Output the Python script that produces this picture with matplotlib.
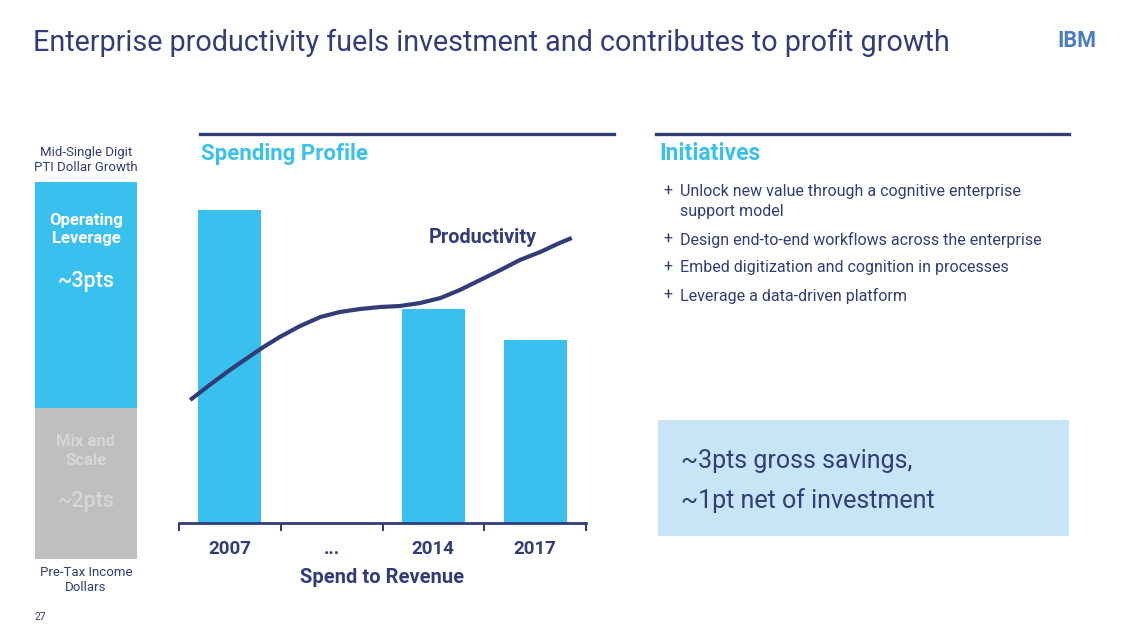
import matplotlib
matplotlib.use("Agg")
import matplotlib.pyplot as plt
from matplotlib.lines import Line2D
from matplotlib.patches import Rectangle

plt.rcParams['font.family'] = ['Roboto', 'DejaVu Sans']

# colours
NAVY = '#323d78'
BLUE = '#3ac0ee'
GREY = '#bfbfbf'
BOXBLUE = '#c7e5f7'

# data
years = ['2007', '...', '2014', '2017']
spend = [31.3, 0, 21.4, 18.3]          # spend to revenue (relative bar height)
prod_x = [-0.39, -0.20, 0.00, 0.20, 0.33, 0.49, 0.69, 0.89, 1.08, 1.28, 1.48,
          1.67, 1.87, 2.07, 2.26, 2.46, 2.66, 2.85, 3.05, 3.24, 3.36]
prod_y = [12.3, 13.8, 15.3, 16.7, 17.6, 18.6, 19.7, 20.6, 21.1, 21.4, 21.6,
          21.7, 22.0, 22.5, 23.3, 24.3, 25.3, 26.3, 27.1, 28.0, 28.5]
pti_parts = ['Mix and\nScale', 'Operating\nLeverage']
pti_pts = [2, 3]
pti_lbl = ['~2pts', '~3pts']
initiatives = ['Unlock new value through a cognitive enterprise\nsupport model',
               'Design end-to-end workflows across the enterprise',
               'Embed digitization and cognition in processes',
               'Leverage a data-driven platform']

W, H = 1129, 635
fig = plt.figure(figsize=(W / 100, H / 100), dpi=100)

def X(px):
    return px / W

def Y(py):
    return 1 - py / H

# title + logo
fig.text(X(33), Y(43), 'Enterprise productivity fuels investment and contributes to profit growth',
         fontsize=20.7, color=NAVY, va='center', ha='left')
fig.text(X(1077), Y(41), 'IBM', fontsize=15.5, fontweight='bold', color='#4a7bc4',
         va='center', ha='center')
for yy in range(33, 51, 2):
    fig.add_artist(Line2D([X(1052), X(1102)], [Y(yy + 0.5), Y(yy + 0.5)], color='white', lw=0.8))

# section rules
fig.add_artist(Line2D([X(200), X(614)], [Y(134), Y(134)], color=NAVY, lw=2.4))
fig.add_artist(Line2D([X(656), X(1069)], [Y(134), Y(134)], color=NAVY, lw=2.4))
fig.text(X(201), Y(154), 'Spending Profile', fontsize=16, fontweight='bold', color=BLUE, va='center')
fig.text(X(659), Y(154), 'Initiatives', fontsize=16.5, fontweight='bold', color=BLUE, va='center')

# left stacked bar (PTI dollars)
ax2 = fig.add_axes([X(35), Y(559), X(137) - X(35), (559 - 182) / H])
ax2.bar([0], [pti_pts[0]], width=1, color=GREY)
ax2.bar([0], [pti_pts[1]], width=1, bottom=[pti_pts[0]], color=BLUE)
ax2.set_xlim(-0.5, 0.5)
ax2.set_ylim(0, sum(pti_pts))
ax2.axis('off')
ax2.text(0, pti_pts[0] + pti_pts[1] * 0.79, pti_parts[1], ha='center', va='center',
         fontsize=12, fontweight='bold', color='white', linespacing=1.3)
ax2.text(0, pti_pts[0] + pti_pts[1] * 0.562, pti_lbl[1], ha='center', va='center',
         fontsize=15.5, color='white', fontweight='medium')
ax2.text(0, pti_pts[0] * 0.716, pti_parts[0], ha='center', va='center',
         fontsize=12, fontweight='bold', color='#d6d6d6', linespacing=1.3)
ax2.text(0, pti_pts[0] * 0.378, pti_lbl[0], ha='center', va='center',
         fontsize=15.5, color='#d6d6d6', fontweight='medium')
fig.text(X(86), Y(160), 'Mid-Single Digit\nPTI Dollar Growth', ha='center', va='center',
         fontsize=9.5, color=NAVY, linespacing=1.25)
fig.text(X(86), Y(580), 'Pre-Tax Income\nDollars', ha='center', va='center',
         fontsize=9.5, color=NAVY, linespacing=1.25)

# spending profile chart
ax = fig.add_axes([X(179), Y(523), X(586) - X(179), (523 - 180) / H])
ax.bar(range(len(years)), spend, width=0.62, color=BLUE)
ax.plot(prod_x, prod_y, color=NAVY, lw=3, solid_capstyle='butt', solid_joinstyle='round')
ax.text(2.49, 28.6, 'Productivity', fontsize=14.3, fontweight='bold', color=NAVY,
        ha='center', va='center')
ax.set_xlim(-0.5, len(years) - 0.5)
ax.set_ylim(0, 34.3)
for s in ['top', 'right', 'left']:
    ax.spines[s].set_visible(False)
ax.spines['bottom'].set_color(NAVY)
ax.spines['bottom'].set_linewidth(2)
ax.set_yticks([])
ax.set_xticks([i - 0.5 for i in range(len(years) + 1)])
ax.set_xticklabels([])
ax.tick_params(axis='x', which='major', direction='out', length=6, width=1.5, color=NAVY)
ax.set_xticks(range(len(years)), minor=True)
ax.set_xticklabels(years, minor=True, fontsize=13.5, fontweight='bold', color=NAVY)
ax.tick_params(axis='x', which='minor', length=0, pad=12.5)
ax.set_xlabel('Spend to Revenue', fontsize=14.5, fontweight='bold', color=NAVY, labelpad=7)

# initiatives list
bullet_y = [191, 239, 267, 295]
for yy, txt in zip(bullet_y, initiatives):
    fig.text(X(663), Y(yy - 7), '+', fontsize=11.5, color=NAVY, va='top', ha='left')
    fig.text(X(680), Y(yy - 7), txt, fontsize=11.5, color=NAVY, va='top', ha='left',
             linespacing=1.4)

# savings box
fig.add_artist(Rectangle((X(658), Y(536)), X(1069) - X(658), (536 - 420) / H,
                         facecolor=BOXBLUE, edgecolor='none', transform=fig.transFigure))
fig.text(X(681), Y(461), '~3pts gross savings,', fontsize=18, color=NAVY, va='center')
fig.text(X(681), Y(501), '~1pt net of investment', fontsize=18, color=NAVY, va='center')

fig.text(X(35), Y(617), '27', fontsize=7.5, color=NAVY, va='center')

fig.savefig('out.png', dpi=100)
